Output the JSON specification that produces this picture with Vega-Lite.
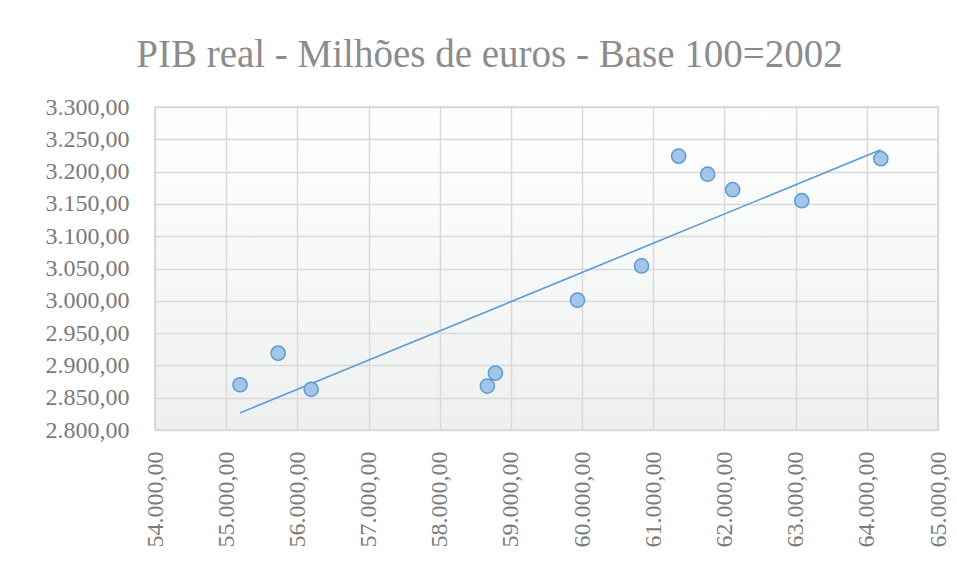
{
  "$schema": "https://vega.github.io/schema/vega-lite/v6.json",
  "autosize": {"type": "none"},
  "padding": {"left": 155, "top": 107, "right": 19, "bottom": 147},
  "width": 783,
  "height": 323,
  "background": "white",
  "config": {
    "locale": {"number": {"decimal": ",", "thousands": ".", "grouping": [3], "currency": ["€", ""]}},
    "font": "Liberation Serif",
    "view": {
      "stroke": "#d0d0d0",
      "strokeWidth": 1.5,
      "fill": {
        "gradient": "linear",
        "x1": 0, "y1": 0, "x2": 0, "y2": 1,
        "stops": [
          {"offset": 0, "color": "#ffffff"},
          {"offset": 1, "color": "#eef0f0"}
        ]
      }
    },
    "axis": {
      "labelFont": "Liberation Serif",
      "labelFontSize": 24,
      "labelColor": "#7a7a7a",
      "labelOverlap": false,
      "labelBound": false,
      "gridColor": "#d9d9d9",
      "gridWidth": 1.5,
      "domain": false,
      "ticks": false,
      "title": null
    }
  },
  "title": {
    "text": "PIB real - Milhões de euros - Base 100=2002",
    "font": "Liberation Serif",
    "fontSize": 39,
    "fontWeight": "normal",
    "color": "#8c8c8c",
    "anchor": "middle",
    "dx": -57,
    "offset": 20
  },
  "data": {
    "values": [
      {"x": 55195, "y": 2870},
      {"x": 55730, "y": 2919},
      {"x": 56194, "y": 2863},
      {"x": 58669, "y": 2868},
      {"x": 58782, "y": 2888},
      {"x": 59935, "y": 3001},
      {"x": 60835, "y": 3054},
      {"x": 61356, "y": 3224},
      {"x": 61764, "y": 3196},
      {"x": 62115, "y": 3172},
      {"x": 63086, "y": 3155},
      {"x": 64197, "y": 3220}
    ]
  },
  "encoding": {
    "x": {"field": "x", "type": "quantitative",
          "scale": {"domain": [54000, 65000], "nice": false, "zero": false},
          "axis": {"values": [54000,55000,56000,57000,58000,59000,60000,61000,62000,63000,64000,65000],
                   "format": ",.2f", "labelAngle": -90, "labelPadding": 21}},
    "y": {"field": "y", "type": "quantitative",
          "scale": {"domain": [2800, 3300], "nice": false, "zero": false},
          "axis": {"values": [2800,2850,2900,2950,3000,3050,3100,3150,3200,3250,3300],
                   "tickCount": 11,
                   "format": ",.2f", "labelPadding": 26}}
  },
  "layer": [
    {
      "mark": {"type": "line", "color": "#5b9bd5", "strokeWidth": 1.6},
      "transform": [{"regression": "y", "on": "x"}]
    },
    {
      "mark": {"type": "point", "shape": "circle", "filled": true, "fill": "#a4c4e8", "stroke": "#5b9bd5", "strokeWidth": 1.5, "size": 200, "opacity": 1}
    }
  ]
}
